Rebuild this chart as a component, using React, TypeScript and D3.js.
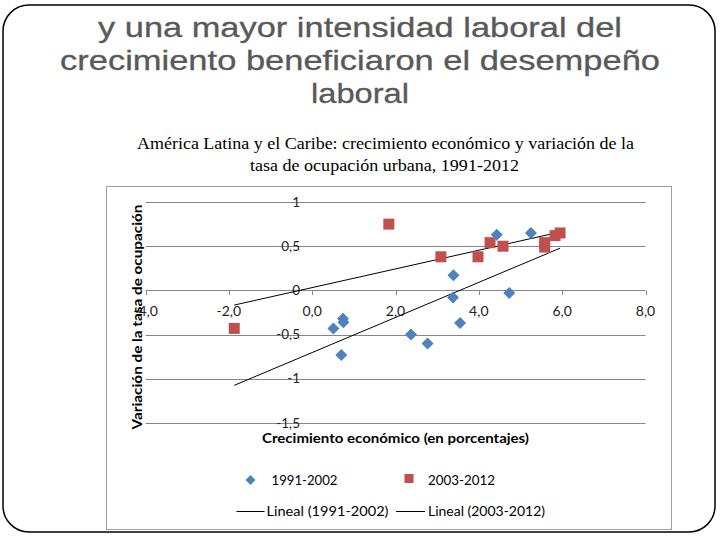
import React from "react";
import * as d3 from "d3";

// Data
const blueX = [0.51, 0.74, 0.75, 0.70, 2.37, 2.77, 3.38, 3.39, 3.55, 4.43, 4.73, 5.25];
const blueY = [-0.43, -0.32, -0.36, -0.73, -0.50, -0.60, -0.08, 0.17, -0.37, 0.63, -0.03, 0.65];
const redX = [-1.87, 1.84, 3.09, 3.98, 4.27, 4.58, 5.58, 5.58, 5.83, 5.95];
const redY = [-0.43, 0.75, 0.38, 0.38, 0.54, 0.50, 0.54, 0.49, 0.62, 0.65];
const xTicks = [-4, -2, 0, 2, 4, 6, 8];
const xTickLabels = ["-4,0", "-2,0", "0,0", "2,0", "4,0", "6,0", "8,0"];
const yTicks = [-1.5, -1, -0.5, 0, 0.5, 1];
const yTickLabels = ["-1,5", "-1", "-0,5", "0", "0,5", "1"];
const seriesNames = ["1991-2002", "2003-2012"];
const trendNames = ["Lineal (1991-2002)", "Lineal (2003-2012)"];
const titleLines = ["y una mayor intensidad laboral del", "crecimiento beneficiaron el desempeño", "laboral"];
const subtitleLines = ["América Latina y el Caribe: crecimiento económico y variación de la", "tasa de ocupación urbana, 1991-2012"];

const BLUE = "#4f81bd";
const RED = "#c0504d";
const SANS = "Lato, 'Open Sans', sans-serif";

function fit(xs: number[], ys: number[]) {
  const mx = d3.mean(xs)!;
  const my = d3.mean(ys)!;
  let sxy = 0, sxx = 0;
  xs.forEach((x, i) => { sxy += (x - mx) * (ys[i] - my); sxx += (x - mx) * (x - mx); });
  const b = sxy / sxx;
  return { a: my - b * mx, b };
}

export default function App() {
  const x = d3.scaleLinear().domain([-4, 8]).range([145.5, 645.5]);
  const y = d3.scaleLinear().domain([-1.5, 1]).range([423, 202]);
  const allX = [...blueX, ...redX];
  const x0 = d3.min(allX)!;
  const x1 = d3.max(allX)!;
  const fb = fit(blueX, blueY);
  const fr = fit(redX, redY);
  const lineGen = d3.line<[number, number]>().x((d) => x(d[0])).y((d) => y(d[1]));
  const blueTrend: [number, number][] = [[x0, fb.a + fb.b * x0], [x1, fb.a + fb.b * x1]];
  const redTrend: [number, number][] = [[x0, fr.a + fr.b * x0], [x1, fr.a + fr.b * x1]];
  const diamond = (cx: number, cy: number, r: number) =>
    `M${cx},${cy - r}L${cx + r},${cy}L${cx},${cy + r}L${cx - r},${cy}Z`;

  return (
    <svg width={720} height={540} style={{ position: "absolute", left: 0, top: 0, background: "#fff" }}>
      <rect x={0} y={0} width={720} height={540} fill="#fff" />
      <rect x={3} y={5} width={712} height={527} rx={26} ry={26} fill="none" stroke="#000" strokeWidth={1.5} />
      {/* Title */}
      {titleLines.map((t, i) => {
        const widths = [524, 600, 98];
        return (
          <text key={i} x={360} y={37 + i * 33} textAnchor="middle" fontFamily="'Liberation Sans', Arial, sans-serif"
            fontSize={28} fill="#595959" stroke="#595959" strokeWidth={0.3} textLength={widths[i]} lengthAdjust="spacingAndGlyphs">{t}</text>
        );
      })}
      {subtitleLines.map((t, i) => {
        const widths = [497, 269];
        const cx = [385.5, 384.5];
        return (
          <text key={i} x={cx[i]} y={149 + i * 22} textAnchor="middle" fontFamily="'Liberation Serif', 'Times New Roman', serif"
            fontSize={16} fill="#000" textLength={widths[i]} lengthAdjust="spacingAndGlyphs">{t}</text>
        );
      })}
      {/* Chart box */}
      <rect x={106.5} y={186.5} width={565} height={343} fill="#fff" stroke="#a0a0a0" strokeWidth={1} />
      {/* Gridlines */}
      {yTicks.map((t) => (
        <line key={t} x1={x(-4)} x2={x(8)} y1={Math.round(y(t)) + 0.5} y2={Math.round(y(t)) + 0.5} stroke="#868686" strokeWidth={1} />
      ))}
      {/* X ticks */}
      {xTicks.map((t) => (
        <line key={t} x1={Math.round(x(t)) + 0.5} x2={Math.round(x(t)) + 0.5} y1={Math.round(y(0)) + 0.5} y2={Math.round(y(0)) + 5} stroke="#868686" />
      ))}
      {xTicks.map((t, i) => (
        <text key={t} x={x(t)} y={y(0) + 26} textAnchor="middle" fontFamily={SANS} fontSize={14} fill="#222">{xTickLabels[i]}</text>
      ))}
      {yTicks.map((t, i) => (
        <text key={t} x={300} y={y(t) + 4.5} textAnchor="end" fontFamily={SANS} fontSize={13.5} fill="#222">{yTickLabels[i]}</text>
      ))}
      {/* Trend lines */}
      <path d={lineGen(blueTrend)!} stroke="#000" strokeWidth={1} fill="none" />
      <path d={lineGen(redTrend)!} stroke="#000" strokeWidth={1} fill="none" />
      {/* Points */}
      {redX.map((v, i) => (
        <rect key={"r" + i} x={x(v) - 5.5} y={y(redY[i]) - 5.5} width={11} height={11} fill={RED} />
      ))}
      {blueX.map((v, i) => (
        <path key={"b" + i} d={diamond(x(v), y(blueY[i]), 6)} fill={BLUE} />
      ))}
      {/* Axis titles */}
      <text x={395.5} y={443} textAnchor="middle" fontFamily={SANS} fontWeight="bold" fontSize={14} fill="#000"
        textLength={267} lengthAdjust="spacingAndGlyphs">Crecimiento económico (en porcentajes)</text>
      <text transform="translate(142,317) rotate(-90)" textAnchor="middle" fontFamily={SANS} fontWeight="bold" fontSize={14} fill="#000"
        textLength={225} lengthAdjust="spacingAndGlyphs">Variación de la tasa de ocupación</text>
      {/* Legend */}
      <path d={diamond(250.5, 480, 5)} fill={BLUE} />
      <text x={271.5} y={485} fontFamily={SANS} fontSize={14} fill="#000" textLength={66} lengthAdjust="spacingAndGlyphs">{seriesNames[0]}</text>
      <rect x={404.5} y={474} width={9} height={9} fill={RED} />
      <text x={428} y={485} fontFamily={SANS} fontSize={14} fill="#000" textLength={67} lengthAdjust="spacingAndGlyphs">{seriesNames[1]}</text>
      <line x1={236.5} x2={264.5} y1={511.5} y2={511.5} stroke="#000" />
      <text x={266.5} y={516} fontFamily={SANS} fontSize={14} fill="#000" textLength={122} lengthAdjust="spacingAndGlyphs">{trendNames[0]}</text>
      <line x1={396} x2={425} y1={511.5} y2={511.5} stroke="#000" />
      <text x={428} y={516} fontFamily={SANS} fontSize={14} fill="#000" textLength={117} lengthAdjust="spacingAndGlyphs">{trendNames[1]}</text>
    </svg>
  );
}
